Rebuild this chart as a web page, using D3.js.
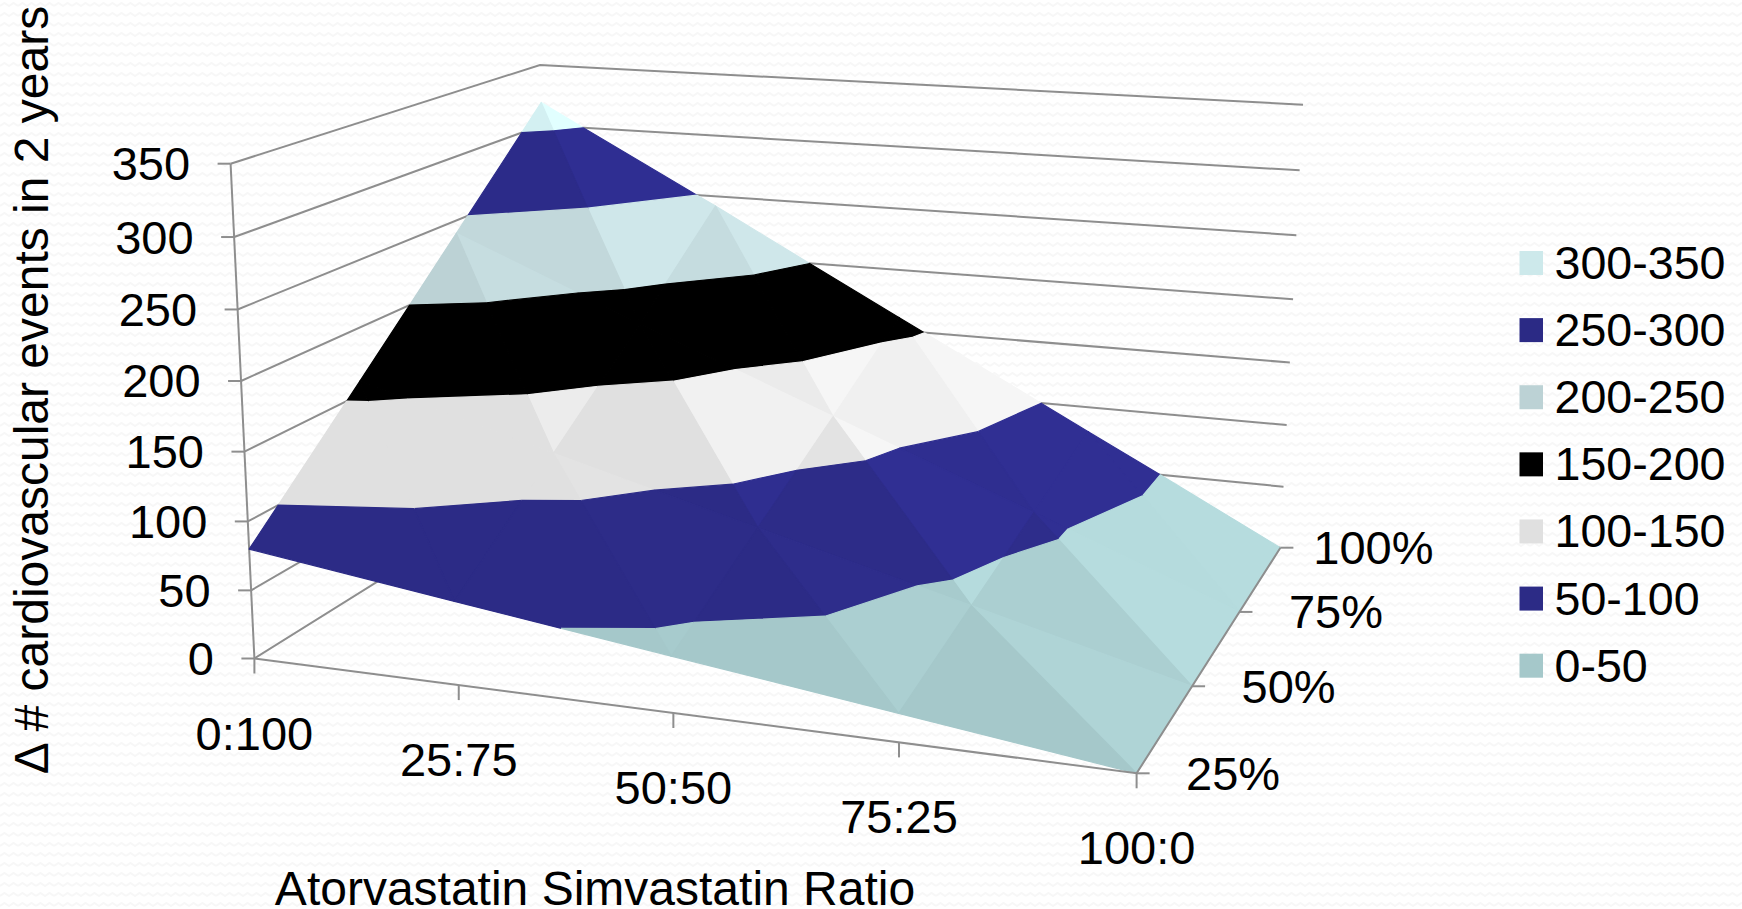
<!DOCTYPE html>
<html>
<head>
<meta charset="utf-8">
<style>
html,body{margin:0;padding:0;background:#fff;overflow:hidden}
text{font-family:"Liberation Sans",Arial,sans-serif;fill:#000;font-size:47px}
</style>
<script src="https://cdn.jsdelivr.net/npm/d3@7"></script>
</head>
<body>
<svg id="chart" width="1742" height="909"></svg>
<script>
// Categories along the two floor axes and the value ticks
const ratios = ["0:100","25:75","50:50","75:25","100:0"];
const shares = ["25%","50%","75%","100%"];
const valueTicks = [0,50,100,150,200,250,300,350];

// Surface heights: one row per share, one column per ratio
const row25  = [80,60,40,20,0];
const row50  = [160,120,80,40,0];
const row75  = [240,180,120,60,0];
const row100 = [319,242,161,80,0];
const surface = [row25,row50,row75,row100];

// Colour bands
const bandLabels = ["300-350","250-300","200-250","150-200","100-150","50-100","0-50"];
const bandFrom   = [300,250,200,150,100,50,0];
const bandColors = ["#cde9eb","#2b2a85","#bcd2d5","#000000","#e0e0e0","#2c2b86","#a5c8ca"];

// Scales from categories and values to the unit box
const uScale = d3.scalePoint().domain(ratios).range([0,1]);
const vScale = d3.scalePoint().domain(shares).range([0,1]);
const zScale = d3.scaleLinear().domain([0,350]).range([0,1]);

// Perspective of the box: corners of the floor and of the ceiling on the page
const floorCorners = [[254.4,658.5],[1136.6,773.3],[1280.4,547.7],[553,472]];
const ceilCorners  = [[230.6,163.7],[1157,234],[1303,104.7],[540,65]];
const heightForeshortening = 0.044;

function solve(A,b){
  const n=b.length, M=A.map((r,i)=>[...r,b[i]]);
  for(let c=0;c<n;c++){
    let p=c; for(let r=c+1;r<n;r++) if(Math.abs(M[r][c])>Math.abs(M[p][c])) p=r;
    [M[c],M[p]]=[M[p],M[c]];
    for(let r=0;r<n;r++){ if(r===c) continue; const f=M[r][c]/M[c][c]; for(let k=c;k<=n;k++) M[r][k]-=f*M[c][k]; }
  }
  return M.map((r,i)=>r[n]/r[i]);
}
function homography(q){
  const p=[[0,0],[1,0],[1,1],[0,1]], A=[], b=[];
  p.forEach(([u,v],i)=>{
    const [x,y]=q[i];
    A.push([u,v,1,0,0,0,-u*x,-v*x]); b.push(x);
    A.push([0,0,0,u,v,1,-u*y,-v*y]); b.push(y);
  });
  const h=solve(A,b);
  return (u,v)=>{const w=h[6]*u+h[7]*v+1; return [(h[0]*u+h[1]*v+h[2])/w,(h[3]*u+h[4]*v+h[5])/w];};
}
const floorAt = homography(floorCorners), ceilAt = homography(ceilCorners);
function project(u,v,z){
  const a=floorAt(u,v), b=ceilAt(u,v), s=zScale(z), t=s/(1+heightForeshortening*(1-s));
  return [a[0]+(b[0]-a[0])*t, a[1]+(b[1]-a[1])*t];
}

const svg = d3.select("#chart");
const defs = svg.append("defs");
// Faint woven paper texture of the slide background
const pat = defs.append("pattern").attr("id","weave").attr("patternUnits","userSpaceOnUse")
  .attr("width",18).attr("height",10);
pat.append("path").attr("d","M0 6 L4.5 3 L9 6 L13.5 3 L18 6").attr("fill","none").attr("stroke","#f7f7f7").attr("stroke-width",2);
svg.append("rect").attr("width",1742).attr("height",909).attr("fill","url(#weave)");

const line = d3.line();
const axisColor = "#8e8e8e";
const grid = svg.append("g").attr("fill","none").attr("stroke",axisColor).attr("stroke-width",2);

// Gridlines over the left and the back wall
valueTicks.forEach(t=>{
  grid.append("path").attr("d",line([project(0,0,t),project(0,1,t),project(1,1,t)]));
  const p=project(0,0,t);
  grid.append("path").attr("d",line([[p[0]-13,p[1]],p]));
  svg.append("text").attr("x",p[0]-40.5).attr("y",p[1]).attr("text-anchor","end")
    .attr("dominant-baseline","central").text(t);
});
grid.append("path").attr("d",line([project(0,0,0),project(0,0,350)]));

// Clip one triangle (vertices are [u,v,z]) to the slab lo<=z<=hi
function clipAbove(poly,lim,sign){
  const out=[];
  poly.forEach((a,i)=>{
    const b=poly[(i+1)%poly.length], da=sign*(a[2]-lim), db=sign*(b[2]-lim);
    if(da>=0) out.push(a);
    if((da>=0)!==(db>=0)){
      const t=da/(da-db);
      out.push([a[0]+(b[0]-a[0])*t,a[1]+(b[1]-a[1])*t,a[2]+(b[2]-a[2])*t]);
    }
  });
  return out;
}
// Facet brightness from its slopes: falling steeply along the ratio axis lightens,
// climbing along the share axis darkens
function facetGain(tri){
  const [a,b,c]=tri;
  const e1=[b[0]-a[0],b[1]-a[1],zScale(b[2])-zScale(a[2])], e2=[c[0]-a[0],c[1]-a[1],zScale(c[2])-zScale(a[2])];
  const n=[e1[1]*e2[2]-e1[2]*e2[1],e1[2]*e2[0]-e1[0]*e2[2],e1[0]*e2[1]-e1[1]*e2[0]];
  const fall=n[0]/n[2], climb=-n[1]/n[2];
  return 1+Math.max(0,Math.min(0.10,0.26*fall-0.13*climb-0.06));
}
function tint(color,gain){
  const c=d3.rgb(color);
  return d3.rgb(Math.min(255,c.r*gain),Math.min(255,c.g*gain),Math.min(255,c.b*gain)).formatHex();
}

// Surface: back rows first, each cell split along one diagonal, each facet cut into bands
const surf = svg.append("g");
for(let j=shares.length-2;j>=0;j--){
  for(let i=0;i<ratios.length-1;i++){
    const P=(a,b)=>[uScale(ratios[a]),vScale(shares[b]),surface[b][a]];
    const tris=[[P(i+1,j),P(i+1,j+1),P(i,j+1)],[P(i,j),P(i+1,j),P(i,j+1)]];
    tris.forEach(tri=>{
      const gain=facetGain(tri);
      bandFrom.forEach((lo,k)=>{
        let poly=clipAbove(tri,lo,1);
        if(poly.length) poly=clipAbove(poly,lo+50,-1);
        if(poly.length<3) return;
        const col=tint(bandColors[k],gain);
        surf.append("path").attr("d",line(poly.map(d=>project(d[0],d[1],d[2])))+"Z")
          .attr("fill",col).attr("stroke",col).attr("stroke-width",1.2).attr("stroke-linejoin","round");
      });
    });
  }
}

// Floor axes in front of the surface
const axes = svg.append("g").attr("fill","none").attr("stroke",axisColor).attr("stroke-width",2);
axes.append("path").attr("d",line([project(0,0,0),project(1,0,0),project(1,1,0)]));
ratios.forEach(r=>{
  const p=project(uScale(r),0,0);
  axes.append("path").attr("d",line([p,[p[0],p[1]+15]]));
  svg.append("text").attr("x",p[0]).attr("y",p[1]+74.5).attr("text-anchor","middle")
    .attr("dominant-baseline","central").text(r);
});
shares.forEach(s=>{
  const p=project(1,vScale(s),0);
  axes.append("path").attr("d",line([p,[p[0]+13,p[1]]]));
  // the widest label sits a little closer to its tick
  svg.append("text").attr("x",p[0]+(s==="100%"?93:96.5)).attr("y",p[1]).attr("text-anchor","middle")
    .attr("dominant-baseline","central").text(s);
});

// Axis titles
svg.append("text").attr("x",595).attr("y",905).attr("text-anchor","middle")
  .style("font-size","48px").text("Atorvastatin Simvastatin Ratio");
svg.append("text").attr("transform","translate(48,390) rotate(-90)").attr("text-anchor","middle")
  .style("font-size","48px").text("Δ # cardiovascular events in 2 years");

// Legend
const legendY = d3.scalePoint().domain(bandLabels).range([263,665.7]);
bandLabels.forEach((l,k)=>{
  const y=legendY(l);
  svg.append("rect").attr("x",1519.5).attr("y",y-12).attr("width",23.5).attr("height",24).attr("fill",bandColors[k]);
  svg.append("text").attr("x",1554.5).attr("y",y).attr("dominant-baseline","central")
    .style("font-size","46.6px").text(l);
});
</script>
</body>
</html>
